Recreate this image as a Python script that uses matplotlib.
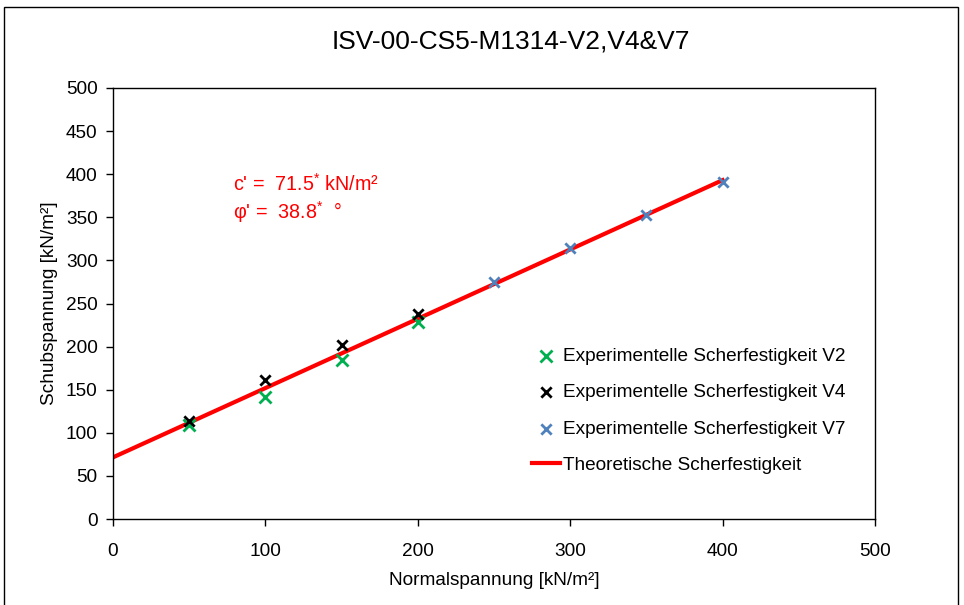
import matplotlib
matplotlib.use("Agg")
import matplotlib.pyplot as plt
import numpy as np
from matplotlib.patches import Rectangle

plt.rcParams['font.family'] = ['Liberation Sans', 'DejaVu Sans']
plt.rcParams['mathtext.fontset'] = 'custom'
plt.rcParams['mathtext.rm'] = 'Liberation Sans'
plt.rcParams['mathtext.it'] = 'Liberation Sans'

# data
sigma_v2 = [50, 100, 150, 200]
tau_v2 = [109, 141, 184.5, 228.5]
sigma_v4 = [50, 100, 150, 200]
tau_v4 = [114, 161, 202, 238]
sigma_v7 = [250, 300, 350, 400]
tau_v7 = [275, 314, 353, 390.5]

c_eff = 71.5
phi_eff = 38.8
line_x = [0, 400]

title = "ISV-00-CS5-M1314-V2,V4&V7"
x_ticks = [0, 100, 200, 300, 400, 500]
y_ticks = [0, 50, 100, 150, 200, 250, 300, 350, 400, 450, 500]

FS = 13.7

fig = plt.figure(figsize=(9.64, 6.05), dpi=100)
ax = fig.add_axes([113 / 964, 1 - 519 / 605, 762 / 964, 431 / 605])

# outer chart frame (bottom edge cut off in the original)
fig.patches.append(Rectangle((4 / 964, -0.05), 954 / 964, 1.05 - 7 / 605,
                             transform=fig.transFigure, fill=False,
                             edgecolor='black', linewidth=1.0))

ax.scatter(sigma_v2, tau_v2, marker='x', color='#00B050', s=75, linewidths=2,
           label='Experimentelle Scherfestigkeit V2', zorder=3)
ax.scatter(sigma_v4, tau_v4, marker='x', color='black', s=55, linewidths=2,
           label='Experimentelle Scherfestigkeit V4', zorder=3)
ax.scatter(sigma_v7, tau_v7, marker='x', color='#4F81BD', s=55, linewidths=2,
           label='Experimentelle Scherfestigkeit V7', zorder=3)

lx = np.array(line_x, dtype=float)
ax.plot(lx, c_eff + np.tan(np.radians(phi_eff)) * lx, color='#FF0000', lw=3,
        label='Theoretische Scherfestigkeit', zorder=2)

ax.set_xlim(0, 500)
ax.set_ylim(0, 500)
ax.set_xticks(x_ticks)
ax.set_yticks(y_ticks)
ax.tick_params(axis='both', direction='out', length=5, width=1, labelsize=FS)
ax.tick_params(axis='x', pad=12)
ax.tick_params(axis='y', pad=6)
for sp in ax.spines.values():
    sp.set_linewidth(1.0)

ax.set_xlabel("Normalspannung [kN/m²]", fontsize=FS, labelpad=9)
ax.set_ylabel("Schubspannung [kN/m²]", fontsize=FS, labelpad=6)
fig.text(511 / 964, 1 - 42 / 605, title, fontsize=19, ha='center', va='center')

ax.text(0.157, 0.777, "c' =  71.5$^{*}$ kN/m²", transform=ax.transAxes,
        color='#FF0000', fontsize=14.2, va='center')
ax.text(0.157, 0.712, "φ' =  38.8$^{*}$  °", transform=ax.transAxes,
        color='#FF0000', fontsize=14.2, va='center')

ax.legend(loc='upper left', bbox_to_anchor=(524 / 964, 1 - 340 / 605),
          bbox_transform=fig.transFigure, frameon=False, fontsize=FS,
          handlelength=1.5, handletextpad=0.15, labelspacing=1.0,
          scatterpoints=1, borderaxespad=0)

fig.savefig("out.png", dpi=100)
